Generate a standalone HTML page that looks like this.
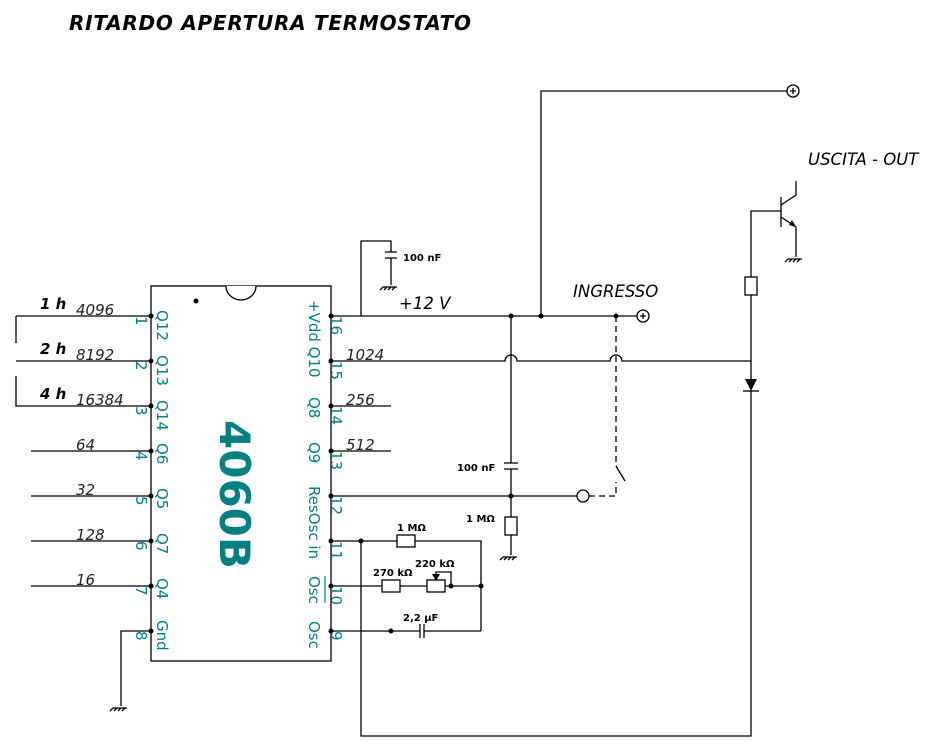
<!DOCTYPE html>
<html><head><meta charset="utf-8"><style>body{margin:0;background:#fff}svg{display:block}</style></head><body>
<svg width="937" height="753" xmlns="http://www.w3.org/2000/svg" font-family="DejaVu Sans, Liberation Sans, sans-serif">
<rect width="937" height="753" fill="#fff"/>
<text x="69" y="30" font-size="20" font-weight="bold" font-style="italic" textLength="402" lengthAdjust="spacing">RITARDO APERTURA TERMOSTATO</text>
<g stroke="#000" stroke-width="1.3" fill="none">
<rect x="151" y="286" width="180" height="375"/>
<path d="M226 286 a15 14 0 0 0 30 0" fill="#fff"/>
<path d="M16 316H151M16 316V343M16 361H151M16 376V406H151M31 451H151M31 496H151M31 541H151M31 586H151M151 631H121V706"/>
<path d="M113 708h14M113 708l-3 3M117 708l-3 3M121 708l-3 3M125 708l-3 3"/>
<path d="M331 316H637M541 316V91H787"/>
<path d="M361 316V241H391V252M385 252h12M385 258h12M391 258V285"/>
<path d="M383 287h14M383 287l-3 3M387 287l-3 3M391 287l-3 3M395 287l-3 3"/>
<path d="M331 361H505a6 6 0 0 1 12 0H610a6 6 0 0 1 12 0H751"/>
<path d="M331 406H391M331 451H391"/>
<path d="M511 316V463M504 463h14M504 469h14M511 469V517M511 535V555"/>
<rect x="505" y="517" width="12" height="18"/>
<path d="M503 557h14M503 557l-3 3M507 557l-3 3M511 557l-3 3M515 557l-3 3"/>
<path d="M331 496H577"/>
<path d="M616 466L625 481"/>
<path d="M616 316V466" stroke-dasharray="6,4"/>
<path d="M589 496H616V482" stroke-dasharray="6,4"/>
<path d="M331 541H397M415 541H481V631M331 586H382M400 586H427M445 586H481M331 631H420M424 631H481M420 624v14M424 624v14"/>
<path d="M451 586V572H436V576"/>
<rect x="397" y="535" width="18" height="12"/>
<rect x="382" y="580" width="18" height="12"/>
<rect x="427" y="580" width="18" height="12"/>
<path d="M361 541V736H751V391M751 379V211H781M781 197V227M781 205L796 195V181M781 217L796 227V257"/>
<rect x="745" y="277" width="12" height="18" fill="#fff"/>
<path d="M743 391h16"/>
<path d="M788 259h14M788 259l-3 3M792 259l-3 3M796 259l-3 3M800 259l-3 3"/>
<circle cx="643" cy="316" r="6"/><circle cx="793" cy="91" r="6"/><circle cx="583" cy="496" r="6"/>
<path d="M640 316h6M643 313v6M790 91h6M793 88v6"/>
</g>
<path d="M745 379h12l-6 12z" fill="#000"/>
<path d="M432 574h8l-4 7z" fill="#000"/>
<path d="M796 227l-7 -2 3 -5z" fill="#000"/>
<g fill="#000">
<circle cx="196" cy="301" r="2.5"/>
<circle cx="151" cy="316" r="2.5"/><circle cx="151" cy="361" r="2.5"/><circle cx="151" cy="406" r="2.5"/><circle cx="151" cy="451" r="2.5"/><circle cx="151" cy="496" r="2.5"/><circle cx="151" cy="541" r="2.5"/><circle cx="151" cy="586" r="2.5"/><circle cx="151" cy="631" r="2.5"/>
<circle cx="331" cy="316" r="2.5"/><circle cx="331" cy="361" r="2.5"/><circle cx="331" cy="406" r="2.5"/><circle cx="331" cy="451" r="2.5"/><circle cx="331" cy="496" r="2.5"/><circle cx="331" cy="541" r="2.5"/><circle cx="331" cy="586" r="2.5"/><circle cx="331" cy="631" r="2.5"/>
<circle cx="511" cy="316" r="2.5"/><circle cx="541" cy="316" r="2.5"/><circle cx="616" cy="316" r="2.5"/><circle cx="511" cy="496" r="2.5"/>
<circle cx="361" cy="541" r="2.5"/><circle cx="451" cy="586" r="2.5"/><circle cx="481" cy="586" r="2.5"/><circle cx="391" cy="631" r="2.5"/>
</g>
<g font-size="15" font-style="italic" fill="#222">
<text x="76" y="315">4096</text><text x="76" y="360">8192</text><text x="76" y="405">16384</text>
<text x="76" y="450">64</text><text x="76" y="495">32</text><text x="76" y="540">128</text><text x="76" y="585">16</text>
<text x="346" y="360">1024</text><text x="346" y="405">256</text><text x="346" y="450">512</text>
</g>
<g font-size="15" font-style="italic" font-weight="bold">
<text x="40" y="309">1 h</text><text x="40" y="354">2 h</text><text x="40" y="399">4 h</text>
</g>
<g font-size="16.5" font-style="italic">
<text x="399" y="309">+12 V</text><text x="573" y="297">INGRESSO</text><text x="808" y="165">USCITA - OUT</text>
</g>
<g font-size="10" font-weight="bold">
<text x="403" y="261">100 nF</text><text x="457" y="471">100 nF</text><text x="466" y="522">1 MΩ</text>
<text x="397" y="531">1 MΩ</text><text x="373" y="576">270 kΩ</text><text x="415" y="567">220 kΩ</text><text x="403" y="621">2,2 µF</text>
</g>
<g fill="#008080" font-size="15">
<text transform="translate(157,310) rotate(90)">Q12</text>
<text transform="translate(157,355) rotate(90)">Q13</text>
<text transform="translate(157,400) rotate(90)">Q14</text>
<text transform="translate(157,443) rotate(90)">Q6</text>
<text transform="translate(157,488) rotate(90)">Q5</text>
<text transform="translate(157,533) rotate(90)">Q7</text>
<text transform="translate(157,578) rotate(90)">Q4</text>
<text transform="translate(157,620) rotate(90)">Gnd</text>
<text transform="translate(309,300) rotate(90)">+Vdd Q10</text>
<text transform="translate(309,397) rotate(90)">Q8</text>
<text transform="translate(309,442) rotate(90)">Q9</text>
<text transform="translate(309,486) rotate(90)">ResOsc in</text>
<text transform="translate(309,576) rotate(90)">Osc</text>
<text transform="translate(309,621) rotate(90)">Osc</text>
<text transform="translate(136,316) rotate(90)">1</text>
<text transform="translate(136,361) rotate(90)">2</text>
<text transform="translate(136,406) rotate(90)">3</text>
<text transform="translate(136,451) rotate(90)">4</text>
<text transform="translate(136,496) rotate(90)">5</text>
<text transform="translate(136,541) rotate(90)">6</text>
<text transform="translate(136,586) rotate(90)">7</text>
<text transform="translate(136,631) rotate(90)">8</text>
<text transform="translate(331,316) rotate(90)">16</text>
<text transform="translate(331,361) rotate(90)">15</text>
<text transform="translate(331,406) rotate(90)">14</text>
<text transform="translate(331,451) rotate(90)">13</text>
<text transform="translate(331,496) rotate(90)">12</text>
<text transform="translate(331,541) rotate(90)">11</text>
<text transform="translate(331,586) rotate(90)">10</text>
<text transform="translate(331,631) rotate(90)">9</text>
<text transform="translate(220,420) rotate(90)" font-size="42" font-weight="bold">4060B</text>
</g>
<path d="M325 576V603" stroke="#008080" stroke-width="1.2"/>
</svg>
</body></html>
